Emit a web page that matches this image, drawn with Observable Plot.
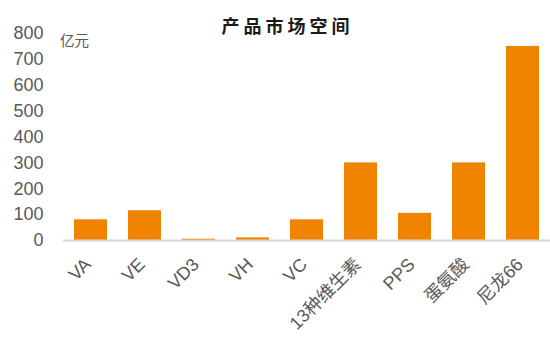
<!DOCTYPE html>
<html>
<head>
<meta charset="utf-8">
<script src="https://cdn.jsdelivr.net/npm/d3@7"></script>
<script src="https://cdn.jsdelivr.net/npm/@observablehq/plot@0.6"></script>
<style>
  html, body { margin: 0; padding: 0; background: #fff; }
  #wrap { position: relative; width: 550px; height: 340px; font-family: "Liberation Sans", Arial, "Noto Sans CJK SC", sans-serif; }
  #title { position: absolute; left: 0; width: 575px; top: 13px; text-align: center; font-size: 18px; font-weight: bold; letter-spacing: 4px; color: #1a1a1a; font-family: "Noto Sans CJK SC", sans-serif; line-height: 24px; }
  #unit { position: absolute; left: 60px; top: 31px; font-size: 14.5px; color: #595959; font-family: "Noto Sans CJK SC", sans-serif; line-height: 18px; }
  svg { display: block; }
</style>
</head>
<body>
<div id="wrap">
  <div id="chart"></div>
  <div id="title">产品市场空间</div>
  <div id="unit">亿元</div>
</div>
<script>
const categories = ["VA", "VE", "VD3", "VH", "VC", "13种维生素", "PPS", "蛋氨酸", "尼龙66"];
const values = [80, 115, 5, 10, 80, 300, 105, 300, 750];
const yTicks = [0, 100, 200, 300, 400, 500, 600, 700, 800];

const data = categories.map((c, i) => ({ name: c, value: values[i] }));

const chart = Plot.plot({
  width: 550,
  height: 340,
  marginTop: 33,
  marginBottom: 100,
  marginLeft: 63,
  marginRight: 0,
  style: { fontFamily: '"Liberation Sans", Arial, "Noto Sans CJK SC", sans-serif', fontSize: "18px", color: "#595959", background: "#fff" },
  x: { domain: categories, paddingInner: 0.387, paddingOuter: 0.16, label: null },
  y: { domain: [0, 800], label: null },
  marks: [
    Plot.barY(data, { x: "name", y: "value", fill: "#f08300" }),
    Plot.ruleY([0], { stroke: "#d9d9d9", strokeWidth: 2 }),
    Plot.axisY({ ticks: yTicks, tickSize: 0, tickPadding: 20, label: null, fontSize: 18, fill: "#595959" }),
    Plot.axisX({ tickSize: 0, tickPadding: 21, dx: -3, tickRotate: -45, label: null, fontSize: 18, fill: "#595959" })
  ]
});
document.getElementById("chart").appendChild(chart);
</script>
</body>
</html>
